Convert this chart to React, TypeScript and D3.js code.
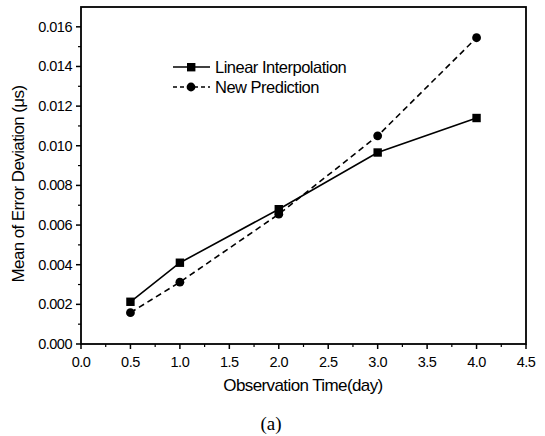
import React from "react";
import * as d3 from "d3";

const xValues = [0.5, 1.0, 2.0, 3.0, 4.0];
const linearInterp = [0.00213, 0.00410, 0.00680, 0.00966, 0.01140];
const newPrediction = [0.00158, 0.00312, 0.00655, 0.01050, 0.01545];
const xTicks = [0, 0.5, 1.0, 1.5, 2.0, 2.5, 3.0, 3.5, 4.0, 4.5];
const yTicks = [0, 0.002, 0.004, 0.006, 0.008, 0.01, 0.012, 0.014, 0.016];
const seriesNames = ["Linear Interpolation", "New Prediction"];

const W = 545, H = 436;
const M = { left: 81, right: 19, top: 7, bottom: 92 };

export default function App() {
  const x = d3.scaleLinear().domain([0, 4.5]).range([M.left, W - M.right]);
  const y = d3.scaleLinear().domain([0, 0.017]).range([H - M.bottom, M.top]);
  const line = d3.line<number>().x((_, i) => x(xValues[i])).y((d) => y(d));
  const minorX = d3.range(0.25, 4.5, 0.5);
  const minorY = d3.range(0.001, 0.017, 0.002);
  const font = "'Liberation Sans', Arial, sans-serif";
  const x0 = x(0), y0 = y(0);
  return (
    <svg width={W} height={H} style={{ position: "absolute", left: 0, top: 0, background: "#fff" }} fontFamily={font}>
      <rect x={M.left} y={M.top} width={W - M.left - M.right} height={H - M.top - M.bottom} fill="none" stroke="#000" strokeWidth={1.8} />
      {xTicks.map((t) => (
        <g key={"xt" + t}>
          <line x1={x(t)} x2={x(t)} y1={y0} y2={y0 + 5} stroke="#000" strokeWidth={1.5} />
          <text x={x(t)} y={y0 + 23} textAnchor="middle" fontSize={14.5} letterSpacing={-0.5}>{t.toFixed(1)}</text>
        </g>
      ))}
      {minorX.map((t) => (
        <line key={"mx" + t} x1={x(t)} x2={x(t)} y1={y0} y2={y0 + 3} stroke="#000" strokeWidth={1.2} />
      ))}
      {yTicks.map((t) => (
        <g key={"yt" + t}>
          <line x1={x0 - 5} x2={x0} y1={y(t)} y2={y(t)} stroke="#000" strokeWidth={1.5} />
          <text x={x0 - 9} y={y(t) + 5} textAnchor="end" fontSize={14.5} letterSpacing={-0.5}>{t.toFixed(3)}</text>
        </g>
      ))}
      {minorY.map((t) => (
        <line key={"my" + t} x1={x0 - 3} x2={x0} y1={y(t)} y2={y(t)} stroke="#000" strokeWidth={1.2} />
      ))}
      <path d={line(linearInterp) || ""} fill="none" stroke="#000" strokeWidth={1.6} />
      <path d={line(newPrediction) || ""} fill="none" stroke="#000" strokeWidth={1.6} strokeDasharray="6,4" />
      {linearInterp.map((v, i) => (
        <rect key={"s" + i} x={x(xValues[i]) - 4.2} y={y(v) - 4.2} width={8.4} height={8.4} fill="#000" />
      ))}
      {newPrediction.map((v, i) => (
        <circle key={"c" + i} cx={x(xValues[i])} cy={y(v)} r={4.4} fill="#000" />
      ))}
      <g>
        <line x1={173} x2={210} y1={67} y2={67} stroke="#000" strokeWidth={1.6} />
        <rect x={187} y={63} width={8.4} height={8.4} fill="#000" />
        <text x={215} y={73} fontSize={16.5} letterSpacing={-0.5}>{seriesNames[0]}</text>
        <line x1={173} x2={210} y1={87} y2={87} stroke="#000" strokeWidth={1.6} strokeDasharray="4,3" />
        <circle cx={191} cy={87} r={4.4} fill="#000" />
        <text x={215} y={93} fontSize={16.5} letterSpacing={-0.5}>{seriesNames[1]}</text>
      </g>
      <text x={303} y={391} textAnchor="middle" fontSize={17} letterSpacing={-0.6}>Observation Time(day)</text>
      <text transform={`translate(24,184) rotate(-90)`} textAnchor="middle" fontSize={17} letterSpacing={-0.6}>Mean of Error Deviation (μs)</text>
      <text x={271} y={430} textAnchor="middle" fontSize={19} fontFamily="'Liberation Serif', 'Times New Roman', serif">(a)</text>
    </svg>
  );
}
